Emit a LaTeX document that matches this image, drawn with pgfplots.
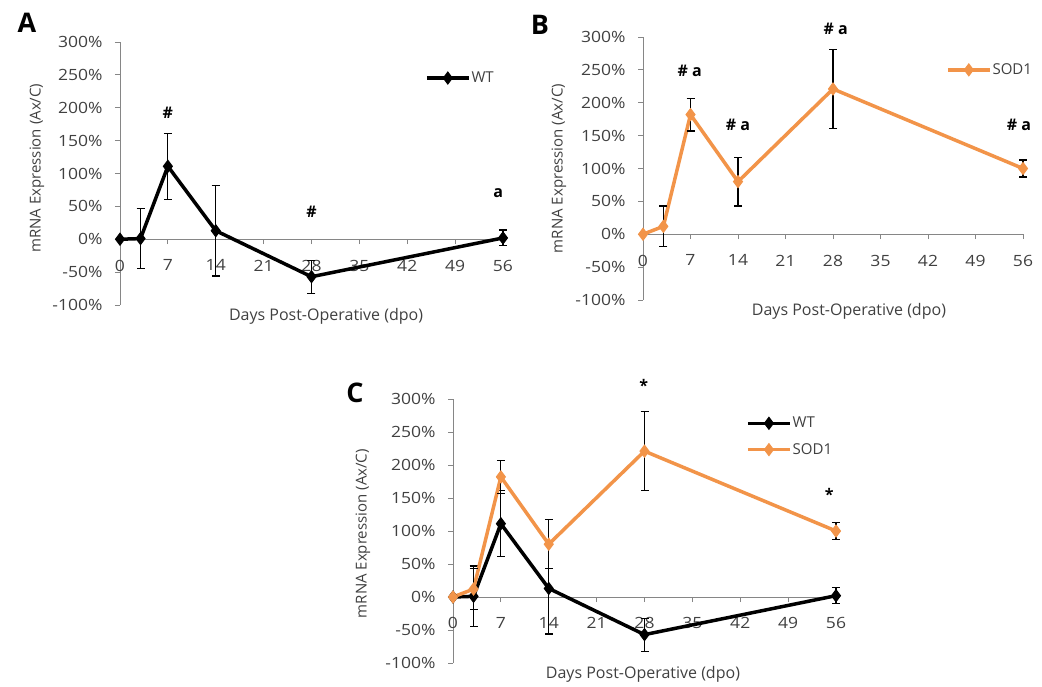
\documentclass[border=0pt]{standalone}
\usepackage{fontspec}
\setmainfont{Open Sans}
\newfontfamily\tickfont{Open Sans}[FakeStretch=1.13]
\usepackage{pgfplots}
\pgfplotsset{compat=1.18}
\usepackage{pgfplotstable}

\definecolor{sodorange}{HTML}{F29449}
\definecolor{axisgray}{HTML}{868686}
\definecolor{txt}{HTML}{404040}

% mean relative expression (%) and its error, by days post-operative
\pgfplotstableread{
d v e
0 0 0
3 1 46
7 111 50
14 13 69
28 -57 25
56 2 12
}\wtdata
\pgfplotstableread{
d v e
0 0 0
3 12 31
7 182 25
14 80 37
28 221 60
56 100 13
}\soddata

\tikzset{note/.style={font=\bfseries\fontsize{16}{18}\selectfont, text=black}}

\pgfplotsset{
  expplot/.style={
    scale only axis, anchor=south west, clip=false,
    xmin=0, xmax=56, ymin=-100, ymax=300,
    axis x line*=middle, axis y line*=left,
    hide obscured x ticks=false, hide obscured y ticks=false,
    axis line style={axisgray, line width=0.8pt, -},
    xtick={0,7,...,56}, ytick={-100,-50,...,300},
    tick align=outside, major tick length=5pt,
    tick style={axisgray, line width=0.8pt},
    yticklabel={\pgfmathprintnumber{\tick}\%},
    /pgf/number format/assume math mode=true,
    ticklabel style={font=\tickfont\fontsize{15.5}{17}\selectfont, text=txt},
    xticklabel style={yshift=-12pt},
    yticklabel style={xshift=-9pt},
    xlabel={Days Post-Operative (dpo)},
    ylabel={mRNA Expression (Ax/C)},
    xlabel style={font=\fontsize{16}{18}\selectfont, text=txt},
    ylabel style={font=\fontsize{15}{17}\selectfont, text=txt, anchor=center},
    legend style={draw=none, fill=none, inner sep=0pt,
      font=\fontsize{15}{17}\selectfont, text=txt,
      nodes={inner sep=1pt}, row sep=12pt},
    legend cell align=left,
    legend image code/.code={%
      \draw[mark repeat=2, mark phase=2, #1]
        plot coordinates {(0pt,0pt) (21pt,0pt) (42pt,0pt)};},
  },
  wtline/.style={black, line width=3.5pt, mark=diamond*, mark size=6pt,
    mark options={solid, fill=black, line width=1pt},
    error bars/.cd, y dir=both, y explicit,
    error bar style={line width=1.2pt, black},
    error mark options={rotate=90, mark size=4pt, line width=1.2pt, black}},
  sodline/.style={sodorange, line width=3.5pt, mark=diamond*, mark size=6pt,
    mark options={solid, fill=sodorange, line width=1pt},
    error bars/.cd, y dir=both, y explicit,
    error bar style={line width=1.2pt, black},
    error mark options={rotate=90, mark size=4pt, line width=1.2pt, black}},
}

\begin{document}
\begin{tikzpicture}
\useasboundingbox (0pt,0pt) rectangle (1042pt,686pt);

% panel letters
\node[font=\bfseries\fontsize{27}{30}\selectfont] at (27pt,663pt) {A};
\node[font=\bfseries\fontsize{27}{30}\selectfont] at (540pt,661pt) {B};
\node[font=\bfseries\fontsize{27}{30}\selectfont] at (355pt,293pt) {C};

% A: wild type
\begin{axis}[expplot, at={(120pt,381pt)}, width=383pt, height=263pt,
  xlabel style={at={(axis description cs:0.538,0)}, anchor=north},
  ylabel style={at={(axis description cs:-0.217,0.52)}},
  legend style={at={(axis description cs:0.796,0.863)}, anchor=west}]
  \addplot[wtline] table[x=d, y=v, y error=e] {\wtdata};
  \addlegendentry{WT}
  \node[note] at (axis cs:7,192) {\#};
  \node[note] at (axis cs:28,41) {\#};
  \node[note] at (axis cs:55.3,70) {a};
\end{axis}

% B: SOD1
\begin{axis}[expplot, at={(643pt,386pt)}, width=380pt, height=263pt,
  xlabel style={at={(axis description cs:0.542,0)}, anchor=north},
  ylabel style={at={(axis description cs:-0.221,0.5)}},
  legend style={at={(axis description cs:0.797,0.875)}, anchor=west}]
  \addplot[sodline] table[x=d, y=v, y error=e] {\soddata};
  \addlegendentry{SOD1}
  \node[note] at (axis cs:6.9,248) {\# a};
  \node[note] at (axis cs:14,167) {\# a};
  \node[note] at (axis cs:28.4,312) {\# a};
  \node[note] at (axis cs:55.4,167) {\# a};
\end{axis}

% C: both genotypes
\begin{axis}[expplot, at={(453pt,23pt)}, width=383pt, height=264pt,
  xlabel style={at={(axis description cs:0.496,0)}, anchor=north},
  ylabel style={at={(axis description cs:-0.235,0.49)}},
  legend style={at={(axis description cs:0.765,0.858)}, anchor=west}]
  \addplot[wtline] table[x=d, y=v, y error=e] {\wtdata};
  \addlegendentry{WT}
  \addplot[sodline] table[x=d, y=v, y error=e] {\soddata};
  \addlegendentry{SOD1}
  \node[note] at (axis cs:27.9,321) {*};
  \node[note] at (axis cs:55,155) {*};
\end{axis}
\end{tikzpicture}
\end{document}
